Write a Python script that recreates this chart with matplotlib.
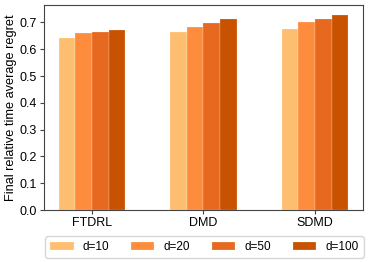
import matplotlib
matplotlib.use('Agg')
import matplotlib.pyplot as plt
import numpy as np

plt.rcParams['font.family'] = ['Liberation Sans', 'DejaVu Sans']

methods = ['FTDRL', 'DMD', 'SDMD']
dims = ['d=10', 'd=20', 'd=50', 'd=100']
regret = {
    'd=10': [0.640, 0.665, 0.676],
    'd=20': [0.660, 0.684, 0.702],
    'd=50': [0.665, 0.698, 0.713],
    'd=100': [0.670, 0.712, 0.727],
}
colors = ['#fdbf6f', '#fd8d3c', '#e6691f', '#c85200']

fig = plt.figure(figsize=(3.73, 2.62), dpi=100)
ax = fig.add_axes([0.118, 0.198, 0.855, 0.783])
x = np.arange(len(methods))
w = 0.15
for i, d in enumerate(dims):
    ax.bar(x + (i - 1.5) * w, regret[d], w, color=colors[i], label=d,
           edgecolor=(1, 1, 1, 0.5), linewidth=0.3)
ax.set_xticks(x)
ax.set_xticklabels(methods, fontsize=9)
ax.set_xlim(-0.43, 2.43)
ax.set_ylim(0, 0.765)
ax.set_yticks(np.arange(0, 0.71, 0.1))
ax.tick_params(labelsize=9, length=3, pad=2, color='#444444')
for s in ax.spines.values():
    s.set_color('#444444')
ax.set_ylabel('Final relative time average regret', fontsize=9.2, labelpad=2)
ax.legend(loc='upper center', bbox_to_anchor=(0.503, -0.11), ncol=4,
          fontsize=8.5, frameon=True, handlelength=2.0, columnspacing=1.8,
          borderaxespad=0.3)
plt.savefig('out.png', dpi=100)
